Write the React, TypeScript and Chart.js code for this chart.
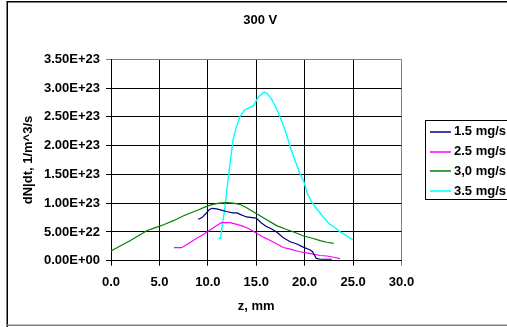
import React, { useEffect, useRef } from "react";
import { Chart, registerables } from "chart.js";

Chart.register(...registerables);

const chartTitle = "300 V";
const xAxisTitle = "z, mm";
const yAxisTitle = "dN|dt, 1/m^3/s";

const seriesLabels = ["1.5 mg/s", "2.5 mg/s", "3,0 mg/s", "3.5 mg/s"];
const seriesColors = ["#000080", "#ff00ff", "#008000", "#00ffff"];

const xTickLabels = ["0.0", "5.0", "10.0", "15.0", "20.0", "25.0", "30.0"];
const yTickLabels = [
  "0.00E+00", "5.00E+22", "1.00E+23", "1.50E+23",
  "2.00E+23", "2.50E+23", "3.00E+23", "3.50E+23",
];

// 1.5 mg/s
const z15 = [9.0, 9.4, 9.8, 10.1, 10.4, 10.9, 11.4, 12.0, 12.6, 13.0, 13.4, 14.0, 14.6, 15.0, 15.5, 16.0, 16.6, 17.1, 17.8, 18.5, 19.2, 19.8, 20.5, 20.8, 21.0, 21.2, 21.6, 22.8];
const n15 = [7.2e22, 7.5e22, 8.2e22, 8.8e22, 9.1e22, 9.0e22, 8.8e22, 8.5e22, 8.3e22, 8.3e22, 8.0e22, 7.6e22, 7.5e22, 7.4e22, 6.6e22, 6.0e22, 5.5e22, 5.0e22, 4.0e22, 3.3e22, 2.9e22, 2.4e22, 1.9e22, 1.6e22, 1.0e22, 0.4e22, 0.25e22, 0.25e22];

// 2.5 mg/s
const z25 = [6.5, 7.3, 8.0, 8.85, 9.5, 10.2, 10.8, 11.4, 12.3, 13.0, 13.6, 14.2, 15.0, 15.6, 16.1, 16.8, 17.8, 18.5, 19.4, 20.2, 21.0, 21.6, 22.3, 23.0, 23.65];
const n25 = [2.26e22, 2.26e22, 3.0e22, 3.9e22, 4.5e22, 5.3e22, 6.0e22, 6.6e22, 6.6e22, 6.3e22, 6.0e22, 5.6e22, 4.8e22, 4.2e22, 3.8e22, 3.2e22, 2.3e22, 2.0e22, 1.6e22, 1.35e22, 1.1e22, 0.9e22, 0.82e22, 0.6e22, 0.35e22];

// 3,0 mg/s
const z30 = [0, 1, 2, 3, 3.7, 4.5, 5.5, 6.5, 7.5, 8.2, 9.0, 9.8, 10.5, 11.2, 11.9, 12.6, 13.3, 14.0, 15.0, 16.0, 17.1, 18.0, 19.0, 19.9, 20.8, 21.6, 22.3, 23.0];
const n30 = [1.7e22, 2.6e22, 3.5e22, 4.5e22, 5.2e22, 5.7e22, 6.3e22, 7.0e22, 7.8e22, 8.3e22, 8.8e22, 9.4e22, 9.8e22, 10.0e22, 10.1e22, 10.0e22, 9.8e22, 9.2e22, 8.2e22, 7.2e22, 6.1e22, 5.5e22, 4.9e22, 4.3e22, 3.9e22, 3.5e22, 3.2e22, 3.0e22];

// 3.5 mg/s
const z35 = [11.1, 11.3, 11.77, 12.1, 12.6, 12.9, 13.3, 13.8, 14.3, 14.7, 15.0, 15.3, 15.8, 16.1, 16.5, 17.0, 17.45, 18.0, 18.5, 19.0, 19.5, 19.9, 20.3, 20.7, 21.3, 21.9, 22.6, 23.0, 23.65, 24.3, 25.0];
const n35 = [3.9e22, 3.9e22, 9.3e22, 14.3e22, 21.0e22, 23.0e22, 25.0e22, 26.2e22, 26.6e22, 26.9e22, 27.8e22, 28.6e22, 29.3e22, 29.1e22, 28.3e22, 26.8e22, 25.0e22, 22.6e22, 19.8e22, 17.4e22, 15.2e22, 13.8e22, 11.6e22, 10.25e22, 8.9e22, 7.65e22, 6.3e22, 5.9e22, 5.0e22, 4.4e22, 3.6e22];

const seriesZ = [z15, z25, z30, z35];
const seriesN = [n15, n25, n30, n35];

const FONT = "'Liberation Sans', Arial, sans-serif";
const FONT_SIZE = 13;

// Outer chart frame (left/top dark, bottom grey)
const framePlugin = {
  id: "frame",
  afterDraw(chart: any) {
    const ctx = chart.ctx;
    ctx.save();
    ctx.lineWidth = 1.5;
    ctx.strokeStyle = "#000";
    ctx.beginPath();
    ctx.moveTo(7.25, 327);
    ctx.lineTo(7.25, 1.75);
    ctx.lineTo(507, 1.75);
    ctx.stroke();
    ctx.strokeStyle = "#808080";
    ctx.beginPath();
    ctx.moveTo(7, 325.25);
    ctx.lineTo(507, 325.25);
    ctx.stroke();
    ctx.restore();
  },
};

// Chart title above the plot area
const titlePlugin = {
  id: "plotTitle",
  afterDraw(chart: any) {
    const { ctx, chartArea } = chart;
    ctx.save();
    ctx.font = `bold ${FONT_SIZE}px ${FONT}`;
    ctx.fillStyle = "#000";
    ctx.textAlign = "center";
    ctx.textBaseline = "middle";
    ctx.fillText(chartTitle, (chartArea.left + chartArea.right) / 2 + 4, 20);
    ctx.restore();
  },
};

// Boxed legend on the right
const boxLegendPlugin = {
  id: "boxLegend",
  afterDraw(chart: any) {
    const ctx = chart.ctx;
    ctx.save();
    ctx.strokeStyle = "#000";
    ctx.lineWidth = 1;
    ctx.strokeRect(425.5, 120.5, 120, 79);
    ctx.font = `bold ${FONT_SIZE}px ${FONT}`;
    ctx.textAlign = "left";
    ctx.textBaseline = "middle";
    chart.data.datasets.forEach((ds: any, i: number) => {
      const y = 131.7 + i * 19.8;
      ctx.strokeStyle = ds.borderColor;
      ctx.lineWidth = 1.5;
      ctx.beginPath();
      ctx.moveTo(430, Math.round(y));
      ctx.lineTo(451, Math.round(y));
      ctx.stroke();
      ctx.fillStyle = "#000";
      ctx.fillText(ds.label, 454, y);
    });
    ctx.restore();
  },
};

export default function App() {
  const canvasRef = useRef<HTMLCanvasElement | null>(null);

  useEffect(() => {
    if (!canvasRef.current) return;
    Chart.defaults.font.family = FONT;
    Chart.defaults.font.size = FONT_SIZE;
    Chart.defaults.font.weight = "bold";
    Chart.defaults.color = "#000";

    const datasets = seriesLabels.map((label, i) => ({
      label,
      data: seriesZ[i].map((z, k) => ({ x: z, y: seriesN[i][k] })),
      borderColor: seriesColors[i],
      backgroundColor: seriesColors[i],
      borderWidth: i === 3 ? 1.4 : 1.2,
      pointRadius: 0,
      tension: 0,
      fill: false,
    }));

    const axisFont = { size: FONT_SIZE, weight: "bold", family: FONT };

    const chart = new Chart(canvasRef.current, {
      type: "line",
      data: { datasets },
      options: {
        animation: false,
        responsive: false,
        layout: { padding: { top: 59.3, right: 105.5, left: 0, bottom: 0 } },
        plugins: {
          legend: { display: false },
          tooltip: { enabled: false },
          title: { display: false },
        },
        scales: {
          x: {
            type: "linear",
            min: 0,
            max: 30,
            afterFit: (scale: any) => {
              scale.height = 66.3;
            },
            ticks: {
              stepSize: 5,
              padding: 9,
              callback: (_v: any, i: number) => xTickLabels[i],
              font: axisFont,
              color: "#000",
            },
            grid: {
              color: (c: any) => (c.tick && c.tick.value === 30 ? "#808080" : "#000"),
              lineWidth: 1,
              tickLength: 5,
            },
            border: { color: "#000", width: 1 },
            title: {
              display: true,
              text: xAxisTitle,
              font: axisFont,
              color: "#000",
              padding: { top: 0, bottom: 13.2 },
            },
          },
          y: {
            type: "linear",
            min: 0,
            max: 3.5e23,
            afterFit: (scale: any) => {
              scale.width = 111;
            },
            ticks: {
              stepSize: 0.5e23,
              padding: 6,
              callback: (_v: any, i: number) => yTickLabels[i],
              font: axisFont,
              color: "#000",
            },
            grid: {
              color: (c: any) => (c.tick && c.tick.value >= 3.5e23 ? "#808080" : "#000"),
              lineWidth: 1,
              tickLength: 5,
            },
            border: { color: "#000", width: 1 },
            title: {
              display: true,
              text: yAxisTitle,
              font: axisFont,
              color: "#000",
              padding: { top: 20.2, bottom: 0 },
            },
          },
        },
      },
      plugins: [framePlugin, titlePlugin, boxLegendPlugin],
    } as any);

    return () => chart.destroy();
  }, []);

  return (
    <div style={{ position: "fixed", left: 0, top: 0, width: 507, height: 327, background: "#fff" }}>
      <canvas ref={canvasRef} width={507} height={327} />
    </div>
  );
}
